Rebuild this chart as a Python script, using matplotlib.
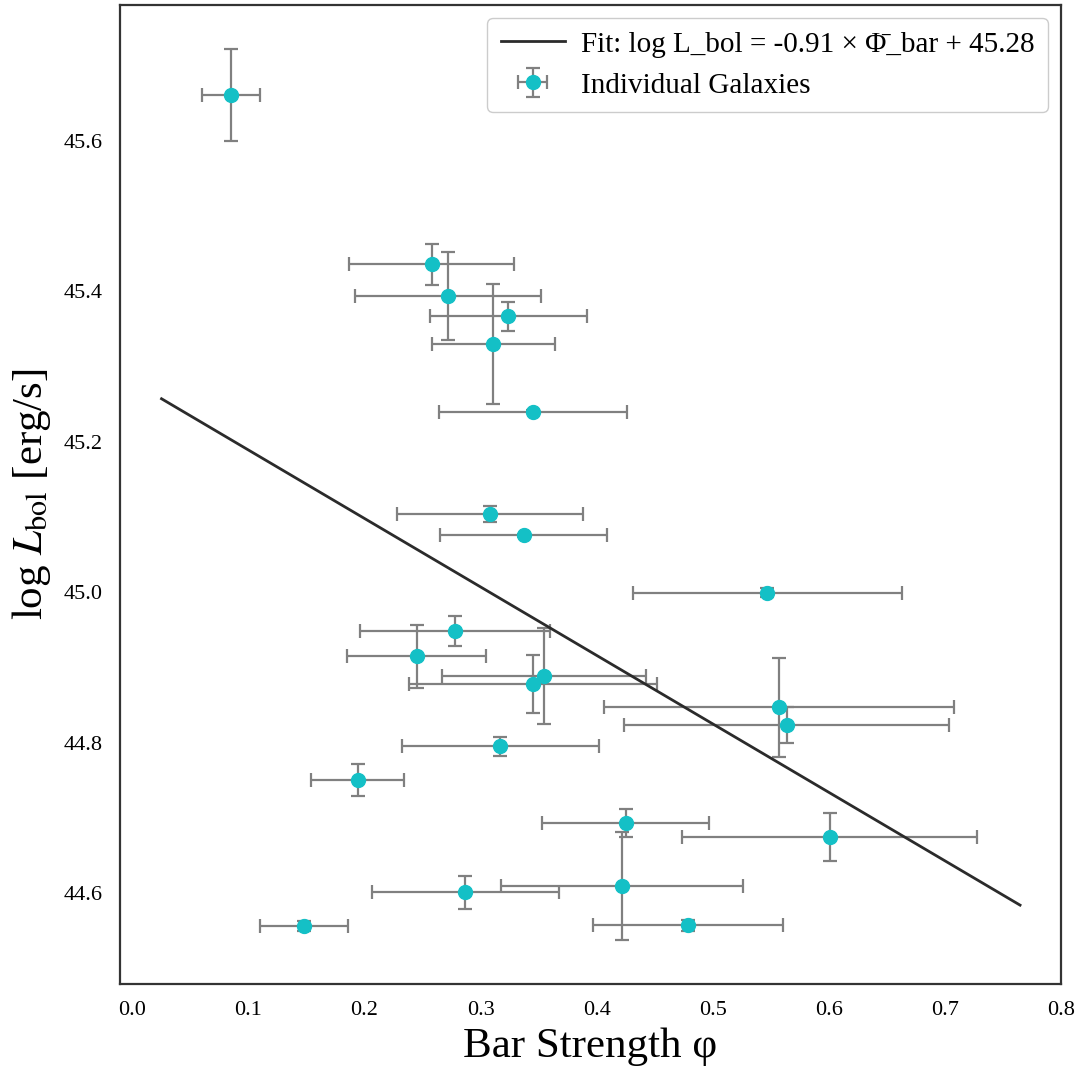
import matplotlib
matplotlib.use("Agg")
import matplotlib.pyplot as plt
import numpy as np

# Bar strength (phi) and bolometric luminosity for each galaxy, with 1-sigma errors
phi = [0.085, 0.258, 0.272, 0.324, 0.311, 0.345, 0.308, 0.337, 0.547, 0.278, 0.245, 0.355,
       0.345, 0.557, 0.564, 0.317, 0.194, 0.425, 0.601, 0.287, 0.422, 0.148, 0.479]
phi_err = [0.025, 0.071, 0.080, 0.068, 0.053, 0.081, 0.080, 0.072, 0.116, 0.082, 0.060, 0.088,
           0.107, 0.151, 0.140, 0.085, 0.040, 0.072, 0.127, 0.081, 0.104, 0.038, 0.082]
log_lbol = [45.661, 45.436, 45.394, 45.367, 45.330, 45.240, 45.104, 45.076, 44.999, 44.948,
            44.915, 44.889, 44.878, 44.847, 44.823, 44.795, 44.750, 44.693, 44.674, 44.601,
            44.609, 44.556, 44.557]
log_lbol_err = [0.061, 0.027, 0.059, 0.019, 0.080, 0.002, 0.010, 0.002, 0.006, 0.020,
                0.042, 0.064, 0.038, 0.066, 0.024, 0.013, 0.021, 0.019, 0.032, 0.022,
                0.072, 0.007, 0.007]

# linear fit parameters and the range the fit line is drawn over
fit_slope = -0.91
fit_intercept = 45.28
fit_range = [0.025, 0.765]

x_ticks = [0.0, 0.1, 0.2, 0.3, 0.4, 0.5, 0.6, 0.7, 0.8]
y_ticks = [44.6, 44.8, 45.0, 45.2, 45.4, 45.6]

plt.rcParams['font.family'] = ['Liberation Serif', 'DejaVu Serif']
plt.rcParams['mathtext.fontset'] = 'stix'

fig = plt.figure(figsize=(10.79, 10.70), dpi=100)
ax = fig.add_axes([0.111, 0.0804, 0.872, 0.915])

x_fit = np.linspace(fit_range[0], fit_range[1], 100)
y_fit = fit_slope * x_fit + fit_intercept
ax.plot(x_fit, y_fit, color='#2b2b2b', lw=2,
        label=f"Fit: log L_bol = {fit_slope:.2f} \u00d7 \u03a6\u0304_bar + {fit_intercept:.2f}",
        zorder=3)

ax.errorbar(phi, log_lbol, xerr=phi_err, yerr=log_lbol_err, fmt='o',
            color='#14c0c6', markersize=10, ecolor='#808080', elinewidth=1.6,
            capsize=5, capthick=1.6, label='Individual Galaxies', zorder=2)

ax.set_xlim(-0.011, 0.80)
ax.set_ylim(44.479, 45.781)
ax.set_xticks(x_ticks)
ax.set_yticks(y_ticks)
ax.tick_params(length=0, labelsize=16, pad=12)

for s in ax.spines.values():
    s.set_color('#333333')
    s.set_linewidth(1.6)

ax.set_xlabel('Bar Strength \u03c6', fontsize=31, labelpad=6)
ax.set_ylabel(r'log $L_{\rm bol}$ [erg/s]', fontsize=31, labelpad=8)

leg = ax.legend(loc='upper right', fontsize=21, frameon=True, borderpad=0.45,
                handlelength=2.2, handletextpad=0.55, labelspacing=0.5,
                borderaxespad=0.45, framealpha=1)
leg.get_frame().set_edgecolor('#cccccc')

fig.savefig('out.png', dpi=100)
